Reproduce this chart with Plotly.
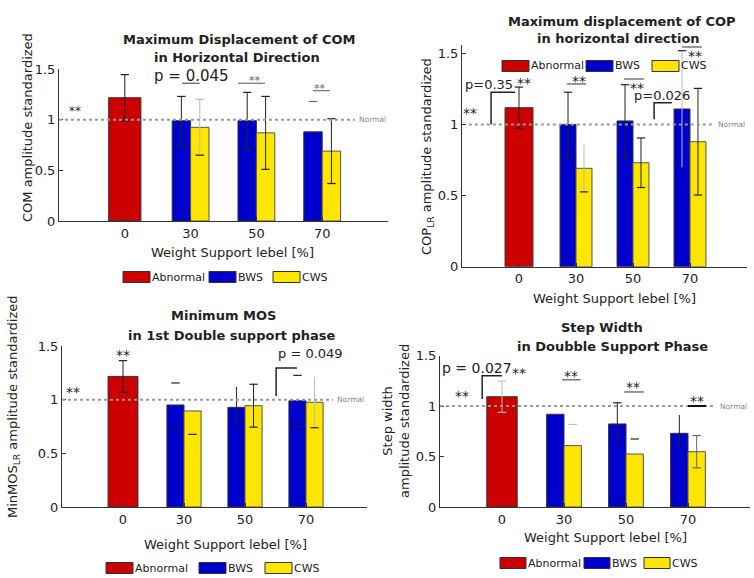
import plotly.graph_objects as go

W, H = 754, 578
FONT = "DejaVu Sans"
INK = "#222222"

SERIES = ["Abnormal", "BWS", "CWS"]
COLORS = ["#cc0000", "#0000cc", "#ffe600"]
LEVELS = ["0", "30", "50", "70"]
ABN_POS = [1]
GRP_POS = [2, 3, 4]

# ---- data ----
com_abn = [1.217]; com_abn_err = [0.228]
com_bws = [0.99, 0.99, 0.88]; com_bws_err = [0.24, 0.28, 0.30]
com_cws = [0.925, 0.87, 0.69]; com_cws_err = [0.275, 0.36, 0.32]

cop_abn = [1.118]; cop_abn_err = [0.145]
cop_bws = [1.0, 1.025, 1.109]; cop_bws_err = [0.227, 0.255, 0.41]
cop_cws = [0.692, 0.731, 0.879]; cop_cws_err = [0.166, 0.174, 0.375]

mos_abn = [1.217]; mos_abn_err = [0.147]
mos_bws = [0.951, 0.929, 0.99]; mos_bws_err = [0.205, 0.19, 0.237]
mos_cws = [0.895, 0.944, 0.976]; mos_cws_err = [0.218, 0.2, 0.237]

sw_abn = [1.093]; sw_abn_err = [0.155]
sw_bws = [0.919, 0.823, 0.73]; sw_bws_err = [0.0, 0.21, 0.182]
sw_cws = [0.608, 0.525, 0.548]; sw_cws_err = [0.21, 0.149, 0.16]

D, L, M, N = "#222222", "#bbbbbb", "#666666", None

def px(v):
    return v / W

def py(v):
    return 1 - v / H

PANELS = [
    dict(n=1, xdom=(59, 388), y0px=221, ppu=101.3, ytop=1.5,
         abn=com_abn, abn_err=com_abn_err, bws=com_bws, bws_err=com_bws_err,
         cws=com_cws, cws_err=com_cws_err,
         st_abn=[(D, D, D)], st_bws=[(D, D, D), (D, D, D), (N, M, N)],
         st_cws=[(L, L, D), (D, D, D), (D, D, D)],
         title=[("Maximum Displacement of COM", 239, 40), ("in Horizontal Direction", 237, 58)],
         ylab=("COM amplitude standardized", 27, 128),
         xlab=(232, 252),
         legend=(277, [123, 209, 273], 27),
         normal=(0.0, 4.5)),
    dict(n=2, xdom=(462, 747), y0px=266.7, ppu=142.2, ytop=1.56,
         abn=cop_abn, abn_err=cop_abn_err, bws=cop_bws, bws_err=cop_bws_err,
         cws=cop_cws, cws_err=cop_cws_err,
         st_abn=[(D, D, D)], st_bws=[(D, D, D), (D, D, D), (L, D, N)],
         st_cws=[(L, N, D), (D, D, D), (D, D, D)],
         title=[("Maximum displacement of COP", 622, 21), ("in horizontal direction", 618, 38)],
         ylab=("COP<sub>LR</sub> amplitude standardized", 427, 157),
         xlab=(614, 298),
         legend=(66, [502, 586, 652], 27),
         normal=(0.12, 4.42)),
    dict(n=3, xdom=(62, 367), y0px=507, ppu=107.3, ytop=1.5,
         abn=mos_abn, abn_err=mos_abn_err, bws=mos_bws, bws_err=mos_bws_err,
         cws=mos_cws, cws_err=mos_cws_err,
         st_abn=[(D, D, D)], st_bws=[(N, D, D), (D, N, N), (N, D, D)],
         st_cws=[(N, N, D), (D, D, D), (L, N, D)],
         title=[("Minimum MOS", 223, 315), ("in 1st Double support phase", 232, 335)],
         ylab=("MinMOS<sub>LR</sub> amplitude standardized", 13, 407),
         xlab=(225, 544),
         legend=(568, [106, 199, 265], 27),
         normal=(0.0, 4.44)),
    dict(n=4, xdom=(440, 750), y0px=507, ppu=100.9, ytop=1.5,
         abn=sw_abn, abn_err=sw_abn_err, bws=sw_bws, bws_err=sw_bws_err,
         cws=sw_cws, cws_err=sw_cws_err,
         st_abn=[(L, L, L)], st_bws=[(N, N, N), (D, D, N), (D, N, N)],
         st_cws=[(N, L, N), (N, D, N), (M, M, M)],
         title=[("Step Width", 602, 327), ("in Doubble Support Phase", 612, 346)],
         ylab=("Step width<br>amplitude standardized", 396, 421),
         xlab=(605, 537),
         legend=(563, [500, 584, 644], 26),
         normal=(0.0, 4.45)),
]

fig = go.Figure()
shapes = []
annos = []

BW_ABN = 0.49
BW_GRP = 0.28


def add_err(xa, ya, x, m, e, style):
    line, up, lo = style
    if line:
        fig.add_trace(go.Scatter(
            x=[x], y=[m], mode="markers", xaxis=xa, yaxis=ya,
            marker=dict(size=1, color="rgba(0,0,0,0)"),
            error_y=dict(type="data", array=[e], visible=True, color=line,
                         thickness=1, width=0),
            showlegend=False, hoverinfo="skip", cliponaxis=False))
    for yv, c in ((m + e, up), (m - e, lo)):
        if c:
            fig.add_trace(go.Scatter(
                x=[x], y=[yv], mode="markers", xaxis=xa, yaxis=ya,
                marker=dict(symbol="line-ew", size=6, line=dict(color=c, width=1.2)),
                showlegend=False, hoverinfo="skip", cliponaxis=False))


for p in PANELS:
    n = p["n"]
    xk = "xaxis" if n == 1 else f"xaxis{n}"
    yk = "yaxis" if n == 1 else f"yaxis{n}"
    xa_ref = "x" if n == 1 else f"x{n}"
    ya_ref = "y" if n == 1 else f"y{n}"
    ytop_px = p["y0px"] - p["ytop"] * p["ppu"]
    fig.layout[xk] = dict(
        domain=[px(p["xdom"][0]), px(p["xdom"][1])], range=[0, 5],
        anchor=ya_ref, tickvals=ABN_POS + GRP_POS, ticktext=LEVELS,
        ticks="inside", ticklen=4, tickcolor="#333", showline=True,
        linecolor="#333", linewidth=1, showgrid=False, zeroline=False,
        automargin=False,
        tickfont=dict(family=FONT, size=13, color=INK), fixedrange=True)
    fig.layout[yk] = dict(
        domain=[py(p["y0px"]), py(ytop_px)], range=[0, p["ytop"]],
        anchor=xa_ref, tickvals=[0, 0.5, 1, 1.5],
        ticks="inside", ticklen=4, tickcolor="#333", showline=True,
        linecolor="#333", linewidth=1, showgrid=False, zeroline=False,
        automargin=False,
        tickfont=dict(family=FONT, size=13, color=INK), fixedrange=True)

    # bars
    fig.add_trace(go.Bar(x=ABN_POS, y=p["abn"], width=BW_ABN, name=SERIES[0],
                         marker=dict(color=COLORS[0], line=dict(color="#333", width=1)),
                         xaxis=xa_ref, yaxis=ya_ref, showlegend=False))
    fig.add_trace(go.Bar(x=GRP_POS, y=p["bws"], width=BW_GRP, offset=-BW_GRP, name=SERIES[1],
                         marker=dict(color=COLORS[1], line=dict(color="#333", width=1)),
                         xaxis=xa_ref, yaxis=ya_ref, showlegend=False))
    fig.add_trace(go.Bar(x=GRP_POS, y=p["cws"], width=BW_GRP, offset=0, name=SERIES[2],
                         marker=dict(color=COLORS[2], line=dict(color="#555", width=1)),
                         xaxis=xa_ref, yaxis=ya_ref, showlegend=False))

    # error bars
    for x, m, e, s in zip(ABN_POS, p["abn"], p["abn_err"], p["st_abn"]):
        add_err(xa_ref, ya_ref, x, m, e, s)
    for x, m, e, s in zip(GRP_POS, p["bws"], p["bws_err"], p["st_bws"]):
        add_err(xa_ref, ya_ref, x - BW_GRP / 2, m, e, s)
    for x, m, e, s in zip(GRP_POS, p["cws"], p["cws_err"], p["st_cws"]):
        add_err(xa_ref, ya_ref, x + BW_GRP / 2, m, e, s)

    # normal reference
    x0n, x1n = p["normal"]
    shapes.append(dict(type="line", xref=xa_ref, yref=ya_ref, x0=x0n, x1=x1n, y0=1, y1=1,
                       line=dict(color="#9a9a9a", width=2, dash="dot"), layer="above"))
    annos.append(dict(xref=xa_ref, yref=ya_ref, x=x1n + 0.03, y=1, text="Normal",
                      showarrow=False, xanchor="left", yanchor="middle",
                      font=dict(family=FONT, size=7.5, color="#888")))

    # titles
    for txt_, cx, cy in p["title"]:
        annos.append(dict(xref="paper", yref="paper", x=px(cx), y=py(cy), text=f"<b>{txt_}</b>",
                          showarrow=False, xanchor="center", yanchor="middle",
                          font=dict(family=FONT, size=13, color=INK)))
    t, cx, cy = p["ylab"]
    annos.append(dict(xref="paper", yref="paper", x=px(cx), y=py(cy), text=t, textangle=-90,
                      showarrow=False, xanchor="center", yanchor="middle",
                      font=dict(family=FONT, size=13, color=INK)))
    cx, cy = p["xlab"]
    annos.append(dict(xref="paper", yref="paper", x=px(cx), y=py(cy),
                      text="Weight Support lebel [%]", showarrow=False,
                      xanchor="center", yanchor="middle",
                      font=dict(family=FONT, size=13, color=INK)))
    # legend
    ly, lxs, lw = p["legend"]
    for name, col, lx in zip(SERIES, COLORS, lxs):
        shapes.append(dict(type="rect", xref="paper", yref="paper",
                           x0=px(lx), x1=px(lx + lw), y0=py(ly + 5.5), y1=py(ly - 5.5),
                           fillcolor=col, line=dict(color="#333", width=1)))
        annos.append(dict(xref="paper", yref="paper", x=px(lx + lw), y=py(ly), text=name,
                          showarrow=False, xanchor="left", yanchor="middle",
                          font=dict(family=FONT, size=11, color=INK)))


def star(ref, x, y, size=14, color=INK):
    annos.append(dict(xref=ref[0], yref=ref[1], x=x, y=y, text="**", showarrow=False,
                      xanchor="center", yanchor="middle", yshift=-3,
                      font=dict(family=FONT, size=size, color=color)))


def txt(ref, x, y, t, size=13):
    annos.append(dict(xref=ref[0], yref=ref[1], x=x, y=y, text=t, showarrow=False,
                      xanchor="center", yanchor="middle",
                      font=dict(family=FONT, size=size, color=INK)))


def hline(ref, x0, x1, y, color="#333", width=1):
    shapes.append(dict(type="line", xref=ref[0], yref=ref[1], x0=x0, x1=x1, y0=y, y1=y,
                       line=dict(color=color, width=width)))


def bracket(ref, x0, x1, yb, yt):
    shapes.append(dict(type="path", xref=ref[0], yref=ref[1],
                       path=f"M {x0},{yb} L {x0},{yt} L {x1},{yt}",
                       line=dict(color="#222", width=1.5)))


R1, R2, R3, R4 = ("x", "y"), ("x2", "y2"), ("x3", "y3"), ("x4", "y4")

# panel 1 significance marks
star(R1, 1.0, 1.51, 12, "#333")
star(R1, 0.24, 1.115, 12, "#333")
txt(R1, 2.02, 1.43, "p = 0.045", 15)
hline(R1, 1.87, 2.14, 1.36)
star(R1, 2.98, 1.42, 11, "#555")
hline(R1, 2.72, 3.13, 1.36, "#555")
star(R1, 3.97, 1.34, 11, "#666")
hline(R1, 3.86, 4.12, 1.286, "#555")

# panel 2
txt(R2, 0.47, 1.278, "p=0.35", 13)
bracket(R2, 0.51, 0.93, 1.0, 1.226)
star(R2, 1.09, 1.31)
star(R2, 0.14, 1.10)
star(R2, 2.06, 1.33)
hline(R2, 1.84, 2.18, 1.285)
star(R2, 3.07, 1.278)
hline(R2, 2.84, 3.19, 1.32)
txt(R2, 3.51, 1.207, "p=0.026", 13)
bracket(R2, 3.37, 3.68, 1.037, 1.153)
star(R2, 4.09, 1.5)
hline(R2, 3.86, 4.21, 1.545)

# panel 3
star(R3, 1.0, 1.445)
star(R3, 0.18, 1.10)
txt(R3, 4.07, 1.426, "p = 0.049", 13)
bracket(R3, 3.51, 3.85, 1.034, 1.295)

# panel 4
txt(R4, 0.60, 1.378, "p = 0.027", 14)
star(R4, 1.27, 1.358)
bracket(R4, 0.68, 1.0, 1.07, 1.30)
star(R4, 0.35, 1.13)
star(R4, 2.11, 1.33)
hline(R4, 1.97, 2.27, 1.26)
star(R4, 3.11, 1.22)
hline(R4, 2.97, 3.29, 1.14)
star(R4, 4.15, 1.08)
hline(R4, 4.0, 4.29, 1.0, "#111", 2)

fig.update_layout(
    width=W, height=H, margin=dict(l=0, r=0, t=0, b=0),
    paper_bgcolor="white", plot_bgcolor="white",
    barmode="overlay", showlegend=False, hovermode=False,
    shapes=shapes, annotations=annos,
    font=dict(family=FONT, color=INK),
)

fig.write_html("out.html", config={"displayModeBar": False},
               post_script="document.body.style.margin='0';")
